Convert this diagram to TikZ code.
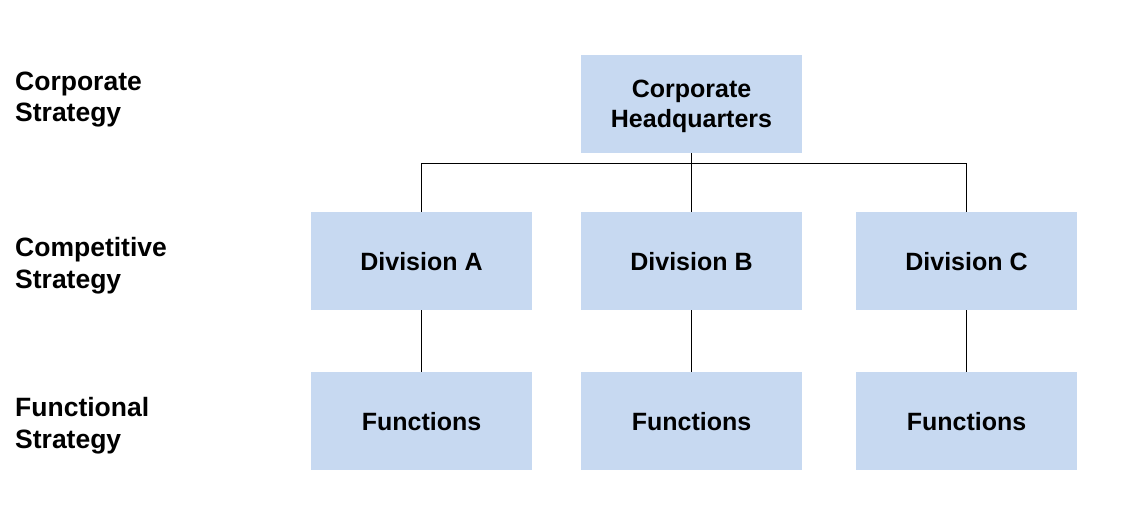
\documentclass[tikz,border=0pt]{standalone}
\usepackage{fontspec}
\setmainfont{Liberation Sans}
\usetikzlibrary{positioning,calc}
\definecolor{ORG-BLUE}{RGB}{199,217,241}

\begin{document}
\begin{tikzpicture}[x=1pt,y=-1pt,
    unit/.style={fill=ORG-BLUE, minimum width=221pt, minimum height=98pt,
      inner sep=0pt, text depth=0pt, align=center,
      font=\bfseries\fontsize{25}{30.5}\selectfont},
    level/.style={anchor=west, align=left, inner sep=0pt, text depth=0pt,
      font=\bfseries\fontsize{26.5}{31.5}\selectfont},
    link/.style={line width=1.2pt}]
  \useasboundingbox (0,0) rectangle (1123,523);

  % Strategy levels (left column)
  \node[level] (corp) at (15,96.5) {Corporate\\Strategy};
  \node[level] (comp) at (15,263) {Competitive\\Strategy};
  \node[level] (func) at (15,423) {Functional\\Strategy};

  % Headquarters
  \node[unit] (hq) at (691.5,104) {Corporate\\Headquarters};

  % Divisions
  \node[unit] (divA) at (421.5,261) {Division A};
  \node[unit] (divB) at (691.5,261) {Division B};
  \node[unit] (divC) at (966.5,261) {Division C};

  % Functions
  \node[unit] (funA) at (421.5,421) {Functions};
  \node[unit] (funB) at (691.5,421) {Functions};
  \node[unit] (funC) at (966.5,421) {Functions};

  % Links
  \coordinate (bus) at ($(hq.south)+(0,10)$);
  \draw[link] (hq.south) -- (divB.north);
  \draw[link] (divA.north) |- (bus) -| (divC.north);
  \draw[link] (divA.south) -- (funA.north);
  \draw[link] (divB.south) -- (funB.north);
  \draw[link] (divC.south) -- (funC.north);
\end{tikzpicture}
\end{document}
